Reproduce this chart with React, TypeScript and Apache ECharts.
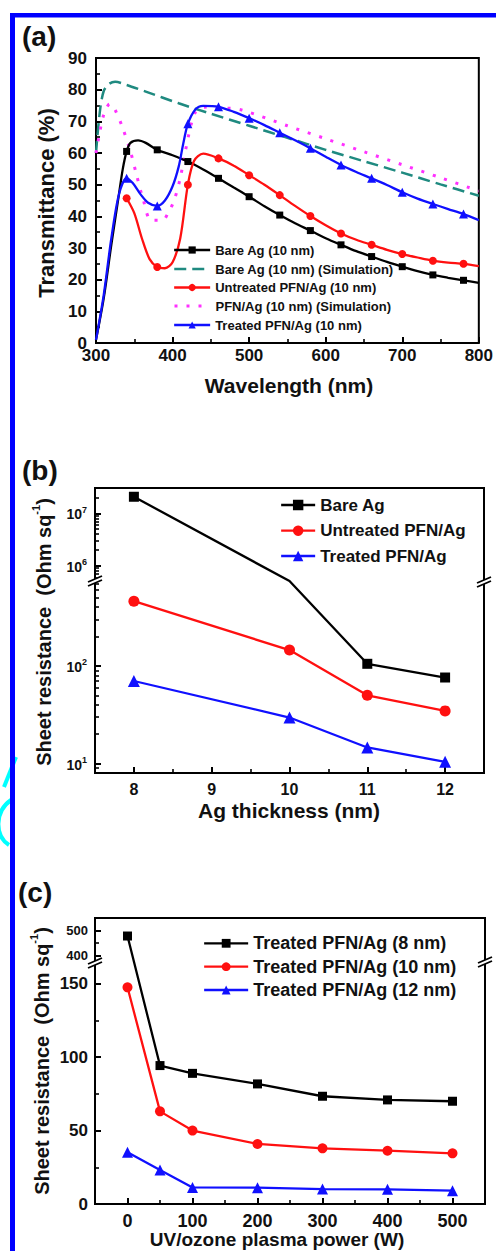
import React, { useEffect, useRef } from "react";
import * as echarts from "echarts";

const FONT = '"Liberation Sans", Arial, Helvetica, sans-serif';
const INK = "#111111";
const BLACK = "#000000";
const RED = "#ff1010";
const BLUE = "#1010ff";
const TEAL = "#1f8a80";
const MAGENTA = "#ff30ff";

// ---------------- Panel (a): transmittance ----------------
const wlTicks = [300, 400, 500, 600, 700, 800];
const wlMinorTicks = [350, 450, 550, 650, 750];
const tTicks = [0, 10, 20, 30, 40, 50, 60, 70, 80, 90];
const tMinorTicks = [5, 15, 25, 35, 45, 55, 65, 75, 85];
const markerWl = [340, 380, 420, 460, 500, 540, 580, 620, 660, 700, 740, 780];

const bareAgWl = [300, 310, 320, 330, 335, 340, 345, 355, 365, 380, 400, 420, 440, 460, 480, 500, 520, 540, 560, 580, 600, 620, 640, 660, 680, 700, 720, 740, 760, 780, 800];
const bareAgT = [1, 14, 31, 47, 55, 60.5, 63.2, 64, 63.2, 61, 59.3, 57.3, 54.8, 52, 49.1, 46.2, 43.2, 40.4, 37.8, 35.5, 33.1, 31, 29, 27.3, 25.6, 24.1, 22.7, 21.5, 20.6, 19.8, 19];

const untreatedWl = [340, 350, 360, 370, 380, 390, 400, 410, 420, 428, 440, 460, 480, 500, 520, 540, 560, 580, 600, 620, 640, 660, 680, 700, 720, 740, 760, 780, 800];
const untreatedT = [45.7, 41, 33, 26.5, 24, 23.6, 25.5, 33, 50, 57.5, 59.8, 58.3, 56, 53, 50, 46.7, 43.3, 40.1, 37.2, 34.6, 32.6, 31, 29.4, 28.1, 27, 26, 25.4, 25, 24.3];

const treatedWl = [300, 310, 320, 330, 340, 348, 358, 368, 380, 390, 400, 408, 414, 420, 430, 440, 460, 480, 500, 520, 540, 560, 580, 600, 620, 640, 660, 680, 700, 720, 740, 760, 780, 800];
const treatedT = [1, 15, 33, 47, 52, 50.5, 47, 44.3, 43.3, 45, 49.5, 55.7, 63, 69.2, 73.8, 74.9, 74.6, 73, 71, 68.8, 66.4, 64, 61.5, 58.8, 56.2, 54, 52, 49.9, 47.6, 45.6, 43.9, 42.3, 40.7, 38.8];

const bareSimWl = [300, 305, 310, 317, 325, 340, 365, 408, 450, 500, 550, 600, 650, 700, 750, 800];
const bareSimT = [60, 73, 79.5, 81.8, 82.5, 81.5, 79.4, 75.7, 72.4, 68.6, 64.8, 61, 57.4, 53.8, 50.1, 46.5];

const pfnSimWl = [300, 305, 310, 318, 325, 335, 345, 352, 362, 372, 387, 395, 402, 410, 417, 430, 445, 470, 490, 550, 600, 650, 700, 750, 800];
const pfnSimT = [60, 66.7, 72, 75.5, 73.6, 67.8, 60.5, 54, 45, 38.8, 38.8, 41.5, 45, 52, 61, 73, 74.5, 74.2, 73.6, 68.6, 64.5, 60.4, 56.3, 52.2, 48];

// ---------------- Panel (b): sheet resistance vs thickness ----------------
const thickness = [8, 10, 11, 12];
const thickTicks = [8, 9, 10, 11, 12];
const thickMinorTicks = [8.5, 9.5, 10.5, 11.5];
// Bare Ag at 10 nm lies inside the axis break (no marker visible)
const bareAgR = [2.07e7, 2.0e4, 105, 76];
const untreatedR = [460, 145, 50, 34.6];
const treatedR = [70, 29.6, 14.6, 10.4];
const bLabelVals = [10, 100, 1e6, 1e7];
const bMinorVals = [9, 20, 30, 40, 50, 60, 70, 80, 90, 200, 300, 400, 500, 600, 700, 6e5, 7e5, 8e5, 9e5, 2e6, 3e6, 4e6, 5e6, 6e6, 7e6, 8e6, 9e6, 2e7];

// ---------------- Panel (c): sheet resistance vs plasma power ----------------
const power = [0, 50, 100, 200, 300, 400, 500];
const powerTicks = [0, 100, 200, 300, 400, 500];
const powerMinorTicks = [50, 150, 250, 350, 450];
const r8 = [478, 94.3, 89, 81.8, 73.4, 70.9, 70];
const r10 = [147.6, 63.1, 50, 40.9, 37.9, 36.3, 34.5];
const r12 = [35.2, 23.2, 11.3, 11.1, 10.2, 10, 9.1];
const cLabelVals = [0, 50, 100, 150, 400, 500];
const cMinorVals = [25, 75, 125, 450];

// broken-axis scales (display units = pixels from the bottom of the frame)
const Db = (v: number) => {
  const t = Math.log10(v);
  if (t <= 2.868) return (t - Math.log10(8)) * 97.6;
  if (t >= 5.708) return 191.8 + (t - 5.708) * 52.4;
  return 191.8;
};
const DbMax = 191.8 + (7.483 - 5.708) * 52.4;
const Dc = (v: number) => {
  if (v <= 165) return v * 1.4667;
  if (v >= 375) return 242 + (v - 375) * 0.25;
  return 242;
};
const DcMax = 242 + (550 - 375) * 0.25;

const labelStyle = (size: number) => ({
  fontFamily: FONT,
  fontWeight: "bold" as const,
  fontSize: size,
  color: INK,
});

function axisPair(
  gridIndex: number,
  dim: "x" | "y",
  min: number,
  max: number,
  major: number[],
  minor: number[],
  fmt: any,
  size: number,
  margin: number,
  rich?: any
) {
  const pos = dim === "x" ? "bottom" : "left";
  const main: any = {
    type: "value",
    gridIndex,
    min,
    max,
    position: pos,
    axisLine: { show: false, onZero: false },
    splitLine: { show: false },
    axisTick: { show: true, inside: true, length: 6, customValues: major, lineStyle: { color: BLACK, width: 2 } },
    axisLabel: { show: true, customValues: major, formatter: fmt, margin, ...labelStyle(size), rich },
  };
  const sub: any = {
    type: "value",
    gridIndex,
    min,
    max,
    position: pos,
    axisLine: { show: false, onZero: false },
    splitLine: { show: false },
    axisTick: { show: true, inside: true, length: 4, customValues: minor, lineStyle: { color: BLACK, width: 1.6 } },
    axisLabel: { show: false },
  };
  return [main, sub];
}

function curveA(name: string, wl: number[], vals: number[], color: string, symbol: string, size: number) {
  return {
    type: "line",
    name,
    xAxisIndex: 0,
    yAxisIndex: 0,
    smooth: 0.3,
    symbol,
    symbolSize: size,
    showAllSymbol: true,
    lineStyle: { color, width: 2.3 },
    itemStyle: { color },
    data: wl.map((w, i) => (markerWl.includes(w) ? [w, vals[i]] : { value: [w, vals[i]], symbol: "none" })),
    z: 3,
  };
}

function simA(name: string, wl: number[], vals: number[], color: string, type: any, width: number) {
  return {
    type: "line",
    name,
    xAxisIndex: 0,
    yAxisIndex: 0,
    smooth: 0.3,
    symbol: "none",
    lineStyle: { color, width, type, cap: "butt" },
    itemStyle: { color },
    data: wl.map((w, i) => [w, vals[i]]),
    z: 2,
  };
}

function brokenSeries(name: string, xs: number[], vals: number[], D: (v: number) => number, axis: number, color: string, symbol: string, size: number, hidden: number[] = []) {
  return {
    type: "line",
    name,
    xAxisIndex: axis,
    yAxisIndex: axis,
    symbol,
    symbolSize: size,
    lineStyle: { color, width: 2.3 },
    itemStyle: { color },
    data: xs.map((x, i) => (hidden.includes(i) ? { value: [x, D(vals[i])], symbol: "none" } : [x, D(vals[i])])),
    z: 3,
  };
}

function legendItem(name: string, left: number, cy: number, w: number, h: number, fs: number, lh: number, lineStyle: any, hideSymbol = false) {
  const o: any = {
    data: [name],
    left,
    top: cy - lh / 2,
    orient: "horizontal",
    itemWidth: w,
    itemHeight: h,
    itemGap: 0,
    padding: 0,
    selectedMode: false,
    formatter: (n: string) => n.trim(),
    textStyle: { fontFamily: FONT, fontWeight: "bold", fontSize: fs, color: INK, lineHeight: lh },
    lineStyle,
  };
  if (hideSymbol) o.itemStyle = { opacity: 0, color: "rgba(0,0,0,0)", borderWidth: 0 };
  return o;
}

function breakMark(x: number, y: number) {
  return [
    {
      type: "polygon",
      shape: { points: [[x - 7, y + 1], [x + 7, y - 5], [x + 7, y - 1], [x - 7, y + 5]] },
      style: { fill: "#ffffff" },
      z: 100,
    },
    { type: "line", shape: { x1: x - 7, y1: y + 1, x2: x + 7, y2: y - 5 }, style: { stroke: BLACK, lineWidth: 1.8 }, z: 101 },
    { type: "line", shape: { x1: x - 7, y1: y + 5, x2: x + 7, y2: y - 1 }, style: { stroke: BLACK, lineWidth: 1.8 }, z: 101 },
  ];
}

function text(t: string, x: number, y: number, size: number, rotate = false, rich?: any, align = "center") {
  return {
    type: "text",
    x,
    y,
    rotation: rotate ? Math.PI / 2 : 0,
    style: {
      text: t,
      fill: INK,
      font: `bold ${size}px ${FONT}`,
      fontFamily: FONT,
      fontWeight: "bold",
      fontSize: size,
      textAlign: align,
      textVerticalAlign: "middle",
      align,
      verticalAlign: "middle",
      rich,
    },
    z: 50,
  };
}

const sheetRich = (size: number) => ({
  t: { fontFamily: FONT, fontWeight: "bold", fontSize: size, fill: INK, color: INK, lineHeight: size + 4, verticalAlign: "bottom" },
  s: { fontFamily: FONT, fontWeight: "bold", fontSize: Math.round(size * 0.55), fill: INK, color: INK, lineHeight: Math.round(size * 0.55), verticalAlign: "top" },
});

function buildOption(): any {
  const supRich = {
    b: { fontFamily: FONT, fontWeight: "bold", fontSize: 14, color: INK, lineHeight: 16, verticalAlign: "bottom" },
    s: { fontFamily: FONT, fontWeight: "bold", fontSize: 9, color: INK, lineHeight: 9, verticalAlign: "top" },
  };
  const bFmt = (v: number) => {
    const i = bLabelVals.findIndex((x) => Math.abs(Db(x) - v) < 0.01);
    return i < 0 ? "" : `{b|10}{s|${Math.round(Math.log10(bLabelVals[i]))}}`;
  };
  const cFmt = (v: number) => {
    const i = cLabelVals.findIndex((x) => Math.abs(Dc(x) - v) < 0.01);
    if (i < 0) return "";
    const val = cLabelVals[i];
    return val >= 375 ? `{u|${val}}` : `${val}`;
  };
  const cRich = { u: { fontFamily: FONT, fontWeight: "bold", fontSize: 13, color: INK } };

  const [ax0, ax1] = axisPair(0, "x", 300, 800, wlTicks, wlMinorTicks, (v: number) => `${v}`, 17, 4);
  const [ay0, ay1] = axisPair(0, "y", 0, 90, tTicks, tMinorTicks, (v: number) => `${v}`, 17, 9);
  const [bx0, bx1] = axisPair(1, "x", 7.5, 12.5, thickTicks, thickMinorTicks, (v: number) => `${v}`, 16, 8);
  const [by0, by1] = axisPair(1, "y", 0, DbMax, bLabelVals.map(Db), bMinorVals.map(Db), bFmt, 14, 8, supRich);
  const [cx0, cx1] = axisPair(2, "x", -50, 550, powerTicks, powerMinorTicks, (v: number) => `${v}`, 18, 8);
  const [cy0, cy1] = axisPair(2, "y", 0, DcMax, cLabelVals.map(Dc), cMinorVals.map(Dc), cFmt, 17, 7, cRich);

  const gridBase = { show: true, borderColor: BLACK, borderWidth: 2, backgroundColor: "transparent", containLabel: false };

  return {
    animation: false,
    backgroundColor: "#ffffff",
    grid: [
      { ...gridBase, left: 96, top: 58, width: 387, height: 285 },
      { ...gridBase, left: 95, top: 488, width: 389, height: 285 },
      { ...gridBase, left: 95, top: 918, width: 390, height: 286 },
    ],
    xAxis: [ax0, ax1, bx0, bx1, cx0, cx1],
    yAxis: [ay0, ay1, by0, by1, cy0, cy1],
    legend: [
      legendItem("Bare Ag (10 nm)", 173, 250, 36, 9, 13, 14, { width: 2.3 }),
      legendItem("Bare Ag (10 nm) (Simulation)", 173, 269, 36, 9, 13, 14, { width: 2.5, type: [12, 6] }, true),
      legendItem("Untreated PFN/Ag (10 nm)", 173, 287.5, 36, 9, 13, 14, { width: 2.3 }),
      legendItem("PFN/Ag (10 nm) (Simulation)", 173, 306, 36, 9, 13, 14, { width: 3, type: [3, 9] }, true),
      legendItem("Treated PFN/Ag (10 nm)", 173, 325, 36, 9, 13, 14, { width: 2.3 }),
      legendItem("Bare Ag", 280, 505, 34, 13, 17, 18, { width: 2.3 }),
      legendItem("Untreated PFN/Ag", 280, 530.7, 34, 13, 17, 18, { width: 2.3 }),
      legendItem("Treated PFN/Ag", 280, 556, 34, 13, 17, 18, { width: 2.3 }),
      legendItem("Treated PFN/Ag (8 nm)", 203, 943.3, 44, 11, 18, 18, { width: 2.3 }),
      legendItem("Treated PFN/Ag (10 nm) ", 203, 966.7, 44, 11, 18, 18, { width: 2.3 }),
      legendItem("Treated PFN/Ag (12 nm)", 203, 990, 44, 11, 18, 18, { width: 2.3 }),
    ],
    series: [
      simA("Bare Ag (10 nm) (Simulation)", bareSimWl, bareSimT, TEAL, [12, 6], 2.5),
      simA("PFN/Ag (10 nm) (Simulation)", pfnSimWl, pfnSimT, MAGENTA, [3, 9], 3),
      curveA("Bare Ag (10 nm)", bareAgWl, bareAgT, BLACK, "rect", 7),
      curveA("Untreated PFN/Ag (10 nm)", untreatedWl, untreatedT, RED, "circle", 8),
      curveA("Treated PFN/Ag (10 nm)", treatedWl, treatedT, BLUE, "triangle", 9),
      brokenSeries("Bare Ag", thickness, bareAgR, Db, 2, BLACK, "rect", 10, [1]),
      brokenSeries("Untreated PFN/Ag", thickness, untreatedR, Db, 2, RED, "circle", 11),
      brokenSeries("Treated PFN/Ag", thickness, treatedR, Db, 2, BLUE, "triangle", 12),
      brokenSeries("Treated PFN/Ag (8 nm)", power, r8, Dc, 4, BLACK, "rect", 9),
      brokenSeries("Treated PFN/Ag (10 nm) ", power, r10, Dc, 4, RED, "circle", 10),
      brokenSeries("Treated PFN/Ag (12 nm)", power, r12, Dc, 4, BLUE, "triangle", 11),
    ],
    graphic: [
      // cyan watermark fragment
      { type: "line", shape: { x1: 16, y1: 757, x2: 4, y2: 787 }, style: { stroke: "#00ffff", lineWidth: 4 }, z: 1 },
      { type: "bezierCurve", shape: { x1: 11, y1: 800, cpx1: -6, cpy1: 812, cpx2: -5, cpy2: 836, x2: 9, y2: 845 }, style: { stroke: "#00ffff", lineWidth: 4, fill: "none" }, z: 1 },
      // blue frame
      { type: "rect", shape: { x: 10, y: 13, width: 486, height: 4.5 }, style: { fill: "#0000ff" }, z: 5 },
      { type: "rect", shape: { x: 10, y: 13, width: 5, height: 1238 }, style: { fill: "#0000ff" }, z: 5 },
      // panel letters
      text("(a)", 22, 36, 28, false, undefined, "left"),
      text("(b)", 22, 470, 28, false, undefined, "left"),
      text("(c)", 18, 892, 28, false, undefined, "left"),
      // axis titles
      text("Wavelength (nm)", 289, 385, 21),
      text("Transmittance (%)", 46, 203, 22, true),
      text("Ag thickness (nm)", 289, 810, 21),
      text("{t|Sheet resistance  (Ohm sq}{s|-1}{t|)}", 42, 632, 20, true, sheetRich(20)),
      text("UV/ozone plasma power (W)", 277, 1239, 19),
      text("{t|Sheet resistance  (Ohm sq}{s|-1}{t|)}", 40, 1061, 20, true, sheetRich(20)),
      // axis breaks
      ...breakMark(95, 581),
      ...breakMark(484, 582),
      ...breakMark(95, 963),
      ...breakMark(485, 962),
    ],
  };
}

export default function App() {
  const ref = useRef<HTMLDivElement>(null);
  useEffect(() => {
    document.body.style.margin = "0";
    const chart = echarts.init(ref.current!, undefined, { renderer: "svg" });
    chart.setOption(buildOption());
    return () => chart.dispose();
  }, []);
  return <div ref={ref} style={{ width: 496, height: 1251 }} />;
}
